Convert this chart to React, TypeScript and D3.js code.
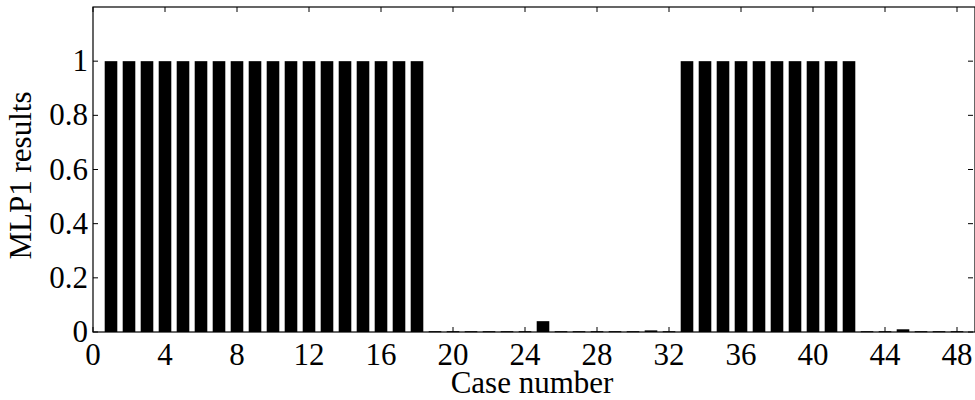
import React from 'react';
import * as d3 from 'd3';

// case numbers and MLP1 output
const cases = d3.range(1, 49);
const results = [
  1, 1, 1, 1, 1, 1, 1, 1, 1, 1, 1, 1, 1, 1, 1, 1, 1, 1,
  0.003, 0.003, 0.003, 0.003, 0.003, 0.003, 0.04, 0.003, 0.003, 0.003, 0.003, 0.003, 0.006, 0.003,
  1, 1, 1, 1, 1, 1, 1, 1, 1, 1,
  0.003, 0.003, 0.01, 0.003, 0.003, 0.003,
];
const xTicks = [0, 4, 8, 12, 16, 20, 24, 28, 32, 36, 40, 44, 48];
const yTicks = [0, 0.2, 0.4, 0.6, 0.8, 1];

const App = () => {
  const width = 975;
  const height = 400;
  const margin = { top: 7, right: 0, bottom: 68, left: 93 };
  const font = '"Liberation Serif", "Times New Roman", serif';
  const fs = 31;

  const x = d3.scaleLinear().domain([0, 49]).range([margin.left, width - margin.right]);
  const y = d3.scaleLinear().domain([0, 1.2]).range([height - margin.bottom, margin.top]);
  const barW = (x(1) - x(0)) * 0.7;
  const tickLen = 5;
  const x0 = x(0), x1 = x(49), y0 = y(0), y1 = y(1.2);

  return (
    <svg width={width} height={height} style={{ position: 'absolute', left: 0, top: 0 }}>
      <rect width={width} height={height} fill="#fff" />
      {cases.map((c, i) => (
        <rect
          key={c}
          x={x(c) - barW / 2}
          y={y(results[i])}
          width={barW}
          height={Math.max(y0 - y(results[i]), 1)}
          fill="#000"
        />
      ))}
      {/* frame */}
      <rect x={x0} y={y1} width={x1 - x0} height={y0 - y1} fill="none" stroke="#000" strokeWidth={1.2} />
      {xTicks.map((t) => (
        <g key={'x' + t}>
          <line x1={x(t)} x2={x(t)} y1={y0} y2={y0 - tickLen} stroke="#000" />
          <line x1={x(t)} x2={x(t)} y1={y1} y2={y1 + tickLen} stroke="#000" />
          <text x={x(t)} y={y0 + 33} textAnchor="middle" fontFamily={font} fontSize={fs}>{t}</text>
        </g>
      ))}
      {yTicks.map((t) => (
        <g key={'y' + t}>
          <line x1={x0} x2={x0 + tickLen} y1={y(t)} y2={y(t)} stroke="#000" />
          <line x1={x1 - 2} x2={x1 - 2 - tickLen} y1={y(t)} y2={y(t)} stroke="#000" />
          <text x={x0 - 5} y={y(t) + 10} textAnchor="end" fontFamily={font} fontSize={fs}>{t}</text>
        </g>
      ))}
      <text x={(x0 + x1) / 2 - 2} y={393} textAnchor="middle" fontFamily={font} fontSize={fs}>Case number</text>
      <text
        transform={`translate(31,${(y0 + y1) / 2 + 6}) rotate(-90)`}
        textAnchor="middle"
        fontFamily={font}
        fontSize={fs}
      >MLP1 results</text>
    </svg>
  );
};

export default App;
